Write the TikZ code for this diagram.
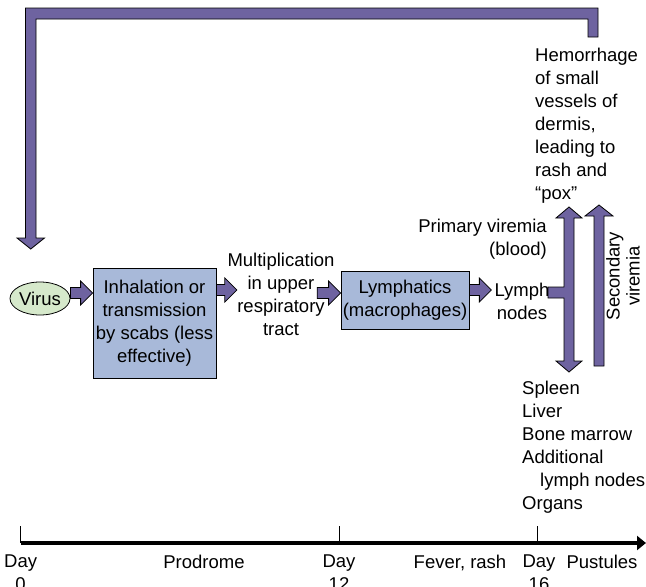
\documentclass[tikz,border=0pt]{standalone}
\usepackage{fontspec}
\setmainfont{Liberation Sans}
\usepackage{xcolor}
\usetikzlibrary{arrows.meta,calc,shapes.geometric}
\definecolor{arrowpurple}{RGB}{110,99,160}
\definecolor{boxblue}{RGB}{168,185,217}
\definecolor{virusgreen}{RGB}{214,233,203}
% fat horizontal arrow from #1 to #2 at height #3
\newcommand{\fatarrow}[3]{%
  \draw[fat] let \p1=(#1), \p2=(#2), \p3=(0,#3) in
    (\x1,\y3+5.5pt) -- (\x2-12pt,\y3+5.5pt) -- (\x2-12pt,\y3+12pt) -- (\x2,\y3)
    -- (\x2-12pt,\y3-12pt) -- (\x2-12pt,\y3-5.5pt) -- (\x1,\y3-5.5pt) -- cycle;}

\begin{document}
\begin{tikzpicture}[x=1pt,y=-1pt,font=\fontsize{18.5}{23}\selectfont,
  fat/.style={draw=black,fill=arrowpurple,line width=0.8pt},
  stepbox/.style={draw=black,fill=boxblue,line width=0.8pt,inner sep=0pt,align=center},
  lbl/.style={inner sep=0pt}]
  \useasboundingbox (0,0) rectangle (646,587);
  \node[ellipse,draw,fill=virusgreen,line width=0.8pt,minimum width=60pt,minimum height=33pt,inner sep=0pt] (virus) at (40,298.5) {Virus};
  \node[stepbox,minimum width=123pt,minimum height=110pt] (inhal) at (154.5,323) {Inhalation or\\transmission\\by scabs (less\\effective)};
  \node[lbl,align=center,anchor=north] (mult) at (281,253) {Multiplication\\in upper\\respiratory\\tract};
  \node[stepbox,minimum width=128pt,minimum height=58pt] (lymphatics) at (405,300) {Lymphatics\\(macrophages)};
  \node[lbl,align=center,anchor=north] (nodes) at (522,283) {Lymph\\nodes};
  \node[lbl,align=right,anchor=north east] (primary) at (547,219) {Primary viremia\\(blood)};
  \node[lbl,align=left,anchor=north west] (hemo) at (535,47.5) {Hemorrhage\\of small\\vessels of\\dermis,\\leading to\\rash and\\“pox”};
  \node[lbl,align=left,anchor=north west] (organs) at (522,381) {Spleen\\Liver\\Bone marrow\\Additional\\\hspace*{18pt}lymph nodes\\Organs};
  \node[lbl,align=center,rotate=90,font=\fontsize{18.5}{20}\selectfont] (second) at (623,276) {Secondary\\viremia};

  \fatarrow{virus.east}{inhal.west}{293}
  \fatarrow{inhal.east}{$(mult.west)+(9.5,0)$}{290}
  \fatarrow{$(mult.east)+(-17.5,0)$}{lymphatics.west}{293}
  \fatarrow{lymphatics.east}{$(nodes.west)+(-3,0)$}{290}

  % primary viremia, both ways
  \draw[fat] (569,207) -- (582,218) -- (574,218) -- (574,361) -- (582,361) -- (569,372) -- (556,361) -- (564,361)
    -- (564,298) -- (548,298) -- (548,287) -- (564,287) -- (564,218) -- (556,218) -- cycle;
  % secondary viremia
  \draw[fat] (599,205) -- (613,216) -- (604,216) -- (604,366) -- (594,366) -- (594,216) -- (585,216) -- cycle;
  % back to the start
  \draw[fat] (598,37) -- (598,8) -- (25.5,8) -- (25.5,238) -- (17,238) -- (30.75,249) -- (44.5,238) -- (36,238)
    -- (36,19) -- (588,19) -- (588,37) -- cycle;

  % time line
  \coordinate (day0) at (20.6,543);
  \coordinate (day12) at (339,543);
  \coordinate (day16) at (537,543);
  \coordinate (tend) at (646,543);
  \draw[line width=4pt,-{Triangle[length=9pt,width=14pt]}] (day0) -- (tend);
  \foreach \d in {day0,day12,day16}
    \draw[line width=0.8pt] (\d) -- ++(0,-17);
  \node[lbl,align=center,anchor=north] (lday0) at ($(day0)+(0,12)$) {Day\\0};
  \node[lbl,anchor=north] (prodrome) at (204,555) {Prodrome};
  \node[lbl,align=center,anchor=north] (lday12) at ($(day12)+(0,12)$) {Day\\12};
  \node[lbl,anchor=north] (fever) at (460,555) {Fever, rash};
  \node[lbl,align=center,anchor=north] (lday16) at ($(day16)+(2,12)$) {Day\\16};
  \node[lbl,anchor=north] (pustules) at (602,555) {Pustules};
\end{tikzpicture}
\end{document}
